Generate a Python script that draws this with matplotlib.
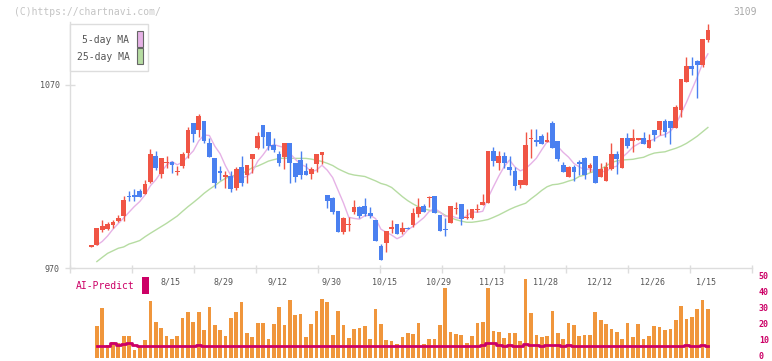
import matplotlib
matplotlib.use("Agg")
import matplotlib.pyplot as plt
from matplotlib.patches import Rectangle
import matplotlib.transforms as mtransforms

# ---------------- data ----------------
opens = [982.0, 982.6, 990.8, 991.3, 993.5, 995.7, 998.4, 1009.6, 1009.7, 1012.1,
         1010.6, 1017.2, 1031.2, 1021.2, 1027.7, 1027.9, 1022.8, 1025.9, 1033.0, 1049.1,
         1045.4, 1050.3, 1038.1, 1030.0, 1023.0, 1020.3, 1020.3, 1013.9, 1025.4, 1020.8,
         1029.6, 1035.4, 1048.1, 1044.3, 1037.2, 1032.3, 1030.8, 1038.1, 1027.2, 1029.0,
         1023.2, 1021.4, 1026.8, 1031.7, 1009.9, 1008.4, 1001.1, 989.9, 993.7, 1000.8,
         1003.5, 1003.9, 1000.1, 996.2, 982.0, 983.8, 991.8, 994.0, 989.8, 992.0,
         993.5, 999.5, 1003.9, 1008.4, 1009.3, 998.9, 991.7, 994.8, 1002.4, 1005.0,
         997.1, 997.1, 1002.0, 1004.4, 1005.5, 1033.9, 1027.6, 1031.2, 1025.4, 1023.0,
         1015.4, 1015.4, 1040.7, 1040.0, 1042.1, 1039.0, 1049.4, 1039.4, 1026.3, 1019.9,
         1025.4, 1027.7, 1030.3, 1024.8, 1031.2, 1019.9, 1017.7, 1023.9, 1032.3, 1024.8,
         1040.8, 1039.6, 1039.9, 1040.8, 1035.7, 1045.4, 1045.4, 1050.3, 1050.3, 1046.7,
         1056.3, 1071.8, 1080.4, 1083.3, 1080.9, 1094.6]
highs = [982.5, 992.0, 996.2, 995.3, 996.2, 999.0, 1009.4, 1012.0, 1013.2, 1013.4,
         1018.1, 1035.0, 1033.9, 1029.9, 1031.2, 1028.2, 1025.7, 1033.4, 1047.2, 1049.5,
         1054.2, 1050.6, 1040.9, 1030.2, 1025.7, 1023.0, 1023.0, 1025.4, 1031.2, 1026.5,
         1032.5, 1044.3, 1048.3, 1044.5, 1041.2, 1034.1, 1038.3, 1038.3, 1027.4, 1033.9,
         1027.2, 1025.4, 1032.3, 1033.4, 1010.1, 1008.6, 1001.3, 997.7, 997.7, 1007.2,
         1003.7, 1008.4, 1003.5, 996.4, 982.9, 990.4, 996.2, 994.2, 994.9, 992.2,
         1002.6, 1008.1, 1005.0, 1009.5, 1009.5, 999.1, 997.1, 1004.1, 1006.2, 1005.2,
         1002.2, 1002.4, 1005.0, 1010.3, 1034.1, 1035.9, 1033.9, 1033.2, 1031.2, 1025.0,
         1018.3, 1044.5, 1046.0, 1046.0, 1043.2, 1044.1, 1050.5, 1039.6, 1028.0, 1025.9,
         1026.3, 1029.0, 1030.5, 1027.6, 1031.4, 1027.2, 1028.1, 1038.5, 1034.1, 1041.0,
         1043.6, 1045.9, 1041.2, 1044.1, 1043.2, 1045.6, 1050.5, 1051.4, 1050.5, 1059.1,
         1073.5, 1085.5, 1085.5, 1083.5, 1095.3, 1103.3]
lows = [981.5, 982.6, 989.9, 990.8, 991.7, 995.0, 995.9, 1006.8, 1006.8, 1009.0,
        1010.6, 1016.6, 1023.6, 1019.0, 1024.8, 1021.7, 1020.8, 1024.8, 1029.9, 1039.0,
        1041.8, 1038.5, 1030.8, 1013.9, 1018.1, 1013.9, 1011.7, 1012.6, 1014.8, 1016.6,
        1021.7, 1035.2, 1035.8, 1034.5, 1033.6, 1025.7, 1023.9, 1016.6, 1017.2, 1018.6,
        1020.6, 1018.6, 1022.3, 1026.8, 1003.0, 999.5, 989.9, 988.6, 990.2, 999.5,
        997.1, 998.6, 997.1, 984.8, 974.4, 978.9, 988.9, 988.6, 988.6, 991.1,
        992.2, 998.1, 1000.8, 1003.1, 999.9, 990.2, 987.7, 994.6, 999.3, 993.5,
        996.9, 996.9, 1000.8, 1004.2, 1005.3, 1025.7, 1023.6, 1024.5, 1020.8, 1012.6,
        1013.5, 1015.2, 1029.9, 1036.7, 1037.6, 1038.8, 1035.5, 1028.6, 1022.4, 1019.7,
        1017.5, 1020.8, 1018.6, 1022.6, 1016.6, 1019.7, 1017.5, 1023.7, 1021.3, 1024.6,
        1035.4, 1033.6, 1039.7, 1037.5, 1035.5, 1039.6, 1042.7, 1041.8, 1037.7, 1046.5,
        1052.7, 1071.6, 1075.4, 1063.1, 1080.0, 1093.7]
closes = [982.0, 991.9, 993.0, 993.9, 995.1, 997.5, 1007.2, 1009.0, 1009.0, 1009.0,
          1015.9, 1032.3, 1024.8, 1029.9, 1027.9, 1026.1, 1023.2, 1032.3, 1045.4, 1043.0,
          1053.1, 1039.6, 1030.8, 1016.6, 1021.7, 1020.5, 1013.0, 1024.1, 1016.6, 1026.3,
          1032.3, 1042.1, 1041.8, 1036.8, 1034.5, 1027.6, 1038.1, 1027.2, 1019.9, 1020.8,
          1020.8, 1024.1, 1032.1, 1033.2, 1006.6, 1000.8, 989.9, 997.5, 993.9, 1003.5,
          998.6, 999.5, 998.6, 984.8, 974.4, 990.2, 992.0, 988.6, 992.0, 991.1,
          1000.3, 1003.5, 1000.8, 1008.6, 999.9, 990.2, 991.1, 1003.9, 1002.6, 996.8,
          998.1, 1002.2, 1002.2, 1005.9, 1033.9, 1028.5, 1031.2, 1027.6, 1023.6, 1015.0,
          1018.1, 1037.2, 1040.9, 1039.0, 1037.8, 1040.1, 1035.7, 1029.6, 1022.6, 1025.0,
          1022.6, 1026.8, 1020.8, 1026.3, 1016.6, 1023.9, 1025.4, 1032.3, 1029.7, 1040.8,
          1036.7, 1040.8, 1041.0, 1037.7, 1039.9, 1042.7, 1050.3, 1044.1, 1046.7, 1057.8,
          1073.3, 1080.4, 1078.7, 1080.9, 1095.1, 1100.0]

# 5-day and 25-day moving averages as drawn (candles 1..115)
ma5 = [982.5, 984.5, 987.5, 991.2, 994.3, 997.3, 1000.5, 1003.6, 1006.3,
       1010.0, 1015.0, 1018.2, 1022.4, 1026.2, 1028.2, 1026.4, 1027.9, 1031.0, 1034.0,
       1039.4, 1042.7, 1042.4, 1036.6, 1032.4, 1025.8, 1020.5, 1019.2, 1019.2, 1020.1,
       1022.5, 1028.3, 1031.8, 1035.9, 1037.5, 1036.6, 1035.8, 1032.8, 1029.5, 1026.7,
       1025.4, 1022.6, 1023.5, 1026.2, 1023.4, 1019.4, 1012.5, 1005.6, 997.7, 997.1,
       996.7, 998.6, 998.8, 997.0, 991.2, 989.5, 988.0, 986.0, 987.4, 990.8,
       992.8, 995.1, 997.5, 1000.9, 1002.6, 1000.6, 998.1, 998.7, 997.5, 996.9,
       998.5, 1000.7, 1000.4, 1001.0, 1008.5, 1014.5, 1020.3, 1025.4, 1029.0, 1025.2,
       1023.1, 1024.3, 1027.0, 1030.0, 1034.6, 1039.0, 1038.7, 1036.4, 1033.2, 1030.6,
       1027.1, 1025.3, 1023.6, 1024.3, 1022.6, 1022.9, 1022.6, 1024.9, 1025.6, 1030.4,
       1033.0, 1036.1, 1037.8, 1039.4, 1039.2, 1040.4, 1042.3, 1042.9, 1044.7, 1048.3,
       1054.4, 1060.5, 1067.4, 1074.2, 1081.7, 1087.0]
ma25 = [973.5, 975.8, 978.0, 979.4, 980.8, 981.5, 983.1, 984.0, 985.0,
        987.1, 989.0, 990.8, 992.6, 994.4, 996.4, 998.4, 1001.0, 1003.5, 1005.8,
        1008.2, 1010.8, 1013.0, 1015.0, 1017.2, 1019.0, 1020.2, 1020.8, 1021.6, 1023.0,
        1024.8, 1025.7, 1027.0, 1028.4, 1029.2, 1029.9, 1030.0, 1030.0, 1029.9, 1029.9,
        1029.9, 1029.5, 1028.9, 1028.2, 1027.2, 1026.0, 1024.2, 1022.8, 1021.5, 1020.8,
        1020.4, 1020.0, 1018.8, 1017.6, 1016.2, 1015.4, 1014.0, 1011.5, 1009.0, 1006.8,
        1005.0, 1003.4, 1002.3, 1001.6, 1000.9, 1000.5, 998.8, 997.5, 996.4, 995.6,
        995.0, 995.0, 995.4, 995.9, 996.5, 997.7, 999.0, 1000.5, 1002.0, 1003.3,
        1004.4, 1005.4, 1007.8, 1010.0, 1012.4, 1014.4, 1015.5, 1015.8, 1016.5, 1017.5,
        1018.3, 1020.0, 1020.8, 1022.0, 1023.0, 1024.0, 1025.8, 1027.6, 1028.5, 1029.0,
        1029.2, 1029.4, 1030.0, 1030.5, 1031.8, 1032.8, 1033.2, 1033.5, 1034.5, 1035.4,
        1036.6, 1038.1, 1040.0, 1042.0, 1044.4, 1046.8]

# AI-Predict bars and line (candles 1..115)
ai_bars = [20.0, 31.3, 8.0, 10.1, 9.0, 13.7, 13.7, 4.8, 6.9, 11.1,
           35.7, 22.7, 18.7, 13.7, 11.8, 13.7, 25.0, 28.8, 22.7, 28.8,
           17.4, 31.9, 20.6, 17.4, 13.7, 25.0, 28.4, 35.1, 15.5, 13.0,
           21.8, 21.8, 11.8, 21.2, 31.9, 20.6, 36.3, 26.9, 27.7, 13.0,
           21.2, 29.4, 37.0, 34.7, 14.3, 29.4, 20.6, 12.4, 18.1, 18.7,
           20.0, 11.8, 30.7, 21.2, 11.1, 10.5, 8.6, 13.0, 15.5, 14.9,
           21.8, 8.6, 11.8, 11.8, 20.6, 43.9, 16.2, 14.9, 14.3, 9.2,
           13.7, 21.8, 22.5, 43.9, 16.8, 16.2, 12.4, 15.5, 15.5, 10.5,
           49.6, 28.2, 14.3, 13.0, 13.7, 29.4, 15.5, 11.8, 21.8, 20.6,
           13.7, 14.3, 14.3, 28.8, 23.7, 21.2, 18.1, 16.2, 11.8, 21.8,
           13.0, 21.2, 11.8, 13.7, 20.0, 19.3, 17.4, 18.1, 23.7, 32.6,
           24.4, 25.6, 30.7, 36.3, 30.7]
ai_line = [7.6, 7.6, 7.6, 9.0, 8.0, 8.6, 9.0, 8.2, 7.1, 7.1,
           7.1, 7.1, 7.1, 7.1, 7.1, 7.1, 7.1, 7.1, 7.1, 7.8,
           7.1, 7.1, 7.1, 7.1, 7.1, 7.1, 7.1, 7.1, 7.1, 7.1,
           7.1, 7.1, 7.1, 7.1, 7.1, 7.1, 7.1, 7.1, 7.1, 7.1,
           7.1, 7.1, 7.1, 7.1, 7.1, 7.1, 7.1, 7.1, 7.1, 7.1,
           7.1, 7.1, 7.1, 7.1, 7.1, 7.1, 7.1, 7.1, 7.1, 7.1,
           7.1, 7.1, 7.1, 7.1, 7.1, 7.1, 7.1, 7.1, 7.1, 7.1,
           7.1, 7.1, 8.0, 9.0, 9.0, 7.8, 7.1, 7.8, 7.1, 7.1,
           8.6, 8.2, 7.8, 7.1, 7.8, 7.8, 7.8, 7.1, 7.8, 7.1,
           7.1, 7.1, 7.1, 7.1, 7.1, 7.1, 7.1, 7.1, 7.1, 7.1,
           7.1, 7.1, 7.1, 7.1, 7.1, 7.1, 7.1, 7.1, 7.1, 7.1,
           7.8, 7.1, 7.1, 7.8, 7.1]

date_labels = ["8/15", "8/29", "9/12", "9/30", "10/15", "10/29",
               "11/13", "11/28", "12/12", "12/26", "1/15"]
date_label_idx = [15, 25, 35, 45, 55, 65, 75, 85, 95, 105, 115]
price_ticks = [970, 1070]
ai_ticks = [0, 10, 20, 30, 40, 50]

# ---------------- styling ----------------
UP = "#f05545"
DOWN = "#4a80f0"
MA5_C = "#e6b2e6"
MA25_C = "#b6dca2"
BAR_C = "#f0963c"
AI_C = "#cc0066"
GRID_C = "#dddddd"
TXT_C = "#555555"
MONO = "DejaVu Sans Mono"

W, H = 772, 361
fig = plt.figure(figsize=(W / 100, H / 100), dpi=100)
fig.patch.set_facecolor("white")


def fx(x):
    return x / W


def fy(y):
    return 1 - y / H


n = len(closes)
idx = list(range(n))
xlim = (-4.01, 123.23)

# ---------------- main price axes ----------------
ax = fig.add_axes([fx(70), fy(268), (752 - 70) / W, (268 - 22) / H])
ax.set_xlim(*xlim)
ax.set_ylim(970, 970 + 246 / 1.83)
for s in ["top", "right"]:
    ax.spines[s].set_visible(False)
for s in ["left", "bottom"]:
    ax.spines[s].set_color(GRID_C)
    ax.spines[s].set_linewidth(1.0)
ax.set_xticks([])
ax.set_yticks(price_ticks)
ax.set_yticklabels([str(v) for v in price_ticks], fontsize=6, family=MONO, color=TXT_C)
ax.tick_params(axis="y", direction="inout", length=6.5, width=1.0, color=GRID_C, pad=4)
ax.patch.set_alpha(0)

# bottom tick marks at fixed spacing
for k in range(12):
    ax.plot([k / 11, k / 11], [-0.02, 0.012], transform=ax.transAxes, color=GRID_C,
            lw=1.0, clip_on=False, solid_capstyle="butt")

ma_x = idx[1:]
ax.plot(ma_x, ma25, color=MA25_C, lw=1.0, zorder=2)
ax.plot(ma_x, ma5, color=MA5_C, lw=1.0, zorder=2)

body_w = 0.88
for i in idx:
    o, h, l, c = opens[i], highs[i], lows[i], closes[i]
    col = UP if c >= o else DOWN
    ax.vlines(i, l, h, color=col, lw=1.0, zorder=3)
    lo = min(o, c)
    ht = max(abs(c - o), 0.7)
    ax.bar(i, ht, bottom=lo - (0.35 if abs(c - o) < 0.7 else 0), width=body_w,
           color=col, linewidth=0, zorder=4)

# ---------------- AI-Predict axes ----------------
ax2 = fig.add_axes([fx(70), fy(357.7), 682 / W, 79.7 / H])
ax2.set_xlim(*xlim)
ax2.set_ylim(0, 50)
for s in ax2.spines.values():
    s.set_visible(False)
ax2.set_xticks([])
ax2.yaxis.tick_right()
ax2.set_yticks(ai_ticks)
ax2.set_yticklabels([str(v) for v in ai_ticks], fontsize=6, family=MONO,
                    color=AI_C, fontweight="bold")
ax2.tick_params(axis="y", length=0, pad=5)
shift_up = mtransforms.ScaledTranslation(0, 1.5 / 72, fig.dpi_scale_trans)
for lab in ax2.get_yticklabels():
    lab.set_transform(lab.get_transform() + shift_up)
ax2.patch.set_alpha(0)
ax2.bar(ma_x, ai_bars, width=0.69, color=BAR_C, linewidth=0, zorder=2)
ax2.plot(ma_x, ai_line, color=AI_C, lw=2.0, zorder=3, drawstyle="steps-mid")

# ---------------- date labels ----------------
trans = mtransforms.blended_transform_factory(ax.transData, fig.transFigure)
for lab, i in zip(date_labels, date_label_idx):
    fig.text(i - 0.3, fy(282), lab, transform=trans, ha="center", va="center",
             fontsize=6, family=MONO, color=TXT_C)

# AI-Predict label
fig.text(fx(76), fy(286), "AI-Predict", ha="left", va="center", fontsize=7,
         family=MONO, color=AI_C)
fig.add_artist(Rectangle((fx(142), fy(294)), 7 / W, 17 / H, transform=fig.transFigure,
                         facecolor=AI_C, edgecolor="none"))

# ---------------- legend box ----------------
fig.add_artist(Rectangle((fx(70), fy(71)), 78 / W, 47 / H, transform=fig.transFigure,
                         facecolor="white", edgecolor=GRID_C, lw=1.0, zorder=5))
fig.text(fx(129.5), fy(40), "5-day MA", ha="right", va="center", fontsize=7,
         family=MONO, color=TXT_C, zorder=6)
fig.text(fx(129.5), fy(57), "25-day MA", ha="right", va="center", fontsize=7,
         family=MONO, color=TXT_C, zorder=6)
fig.add_artist(Rectangle((fx(136.5), fy(46.5)), 6 / W, 15 / H, transform=fig.transFigure,
                         facecolor=MA5_C, edgecolor="#666666", lw=0.8, zorder=6))
fig.add_artist(Rectangle((fx(136.5), fy(63.5)), 6 / W, 15 / H, transform=fig.transFigure,
                         facecolor=MA25_C, edgecolor="#666666", lw=0.8, zorder=6))

# ---------------- header texts ----------------
fig.text(fx(14), fy(12), "(C)https://chartnavi.com/", ha="left", va="center",
         fontsize=7, family=MONO, color="#c4c4c4")
fig.text(fx(757), fy(12), "3109", ha="right", va="center", fontsize=7,
         family=MONO, color="#aaaaaa")

fig.savefig("out.png", dpi=100, facecolor="white")
